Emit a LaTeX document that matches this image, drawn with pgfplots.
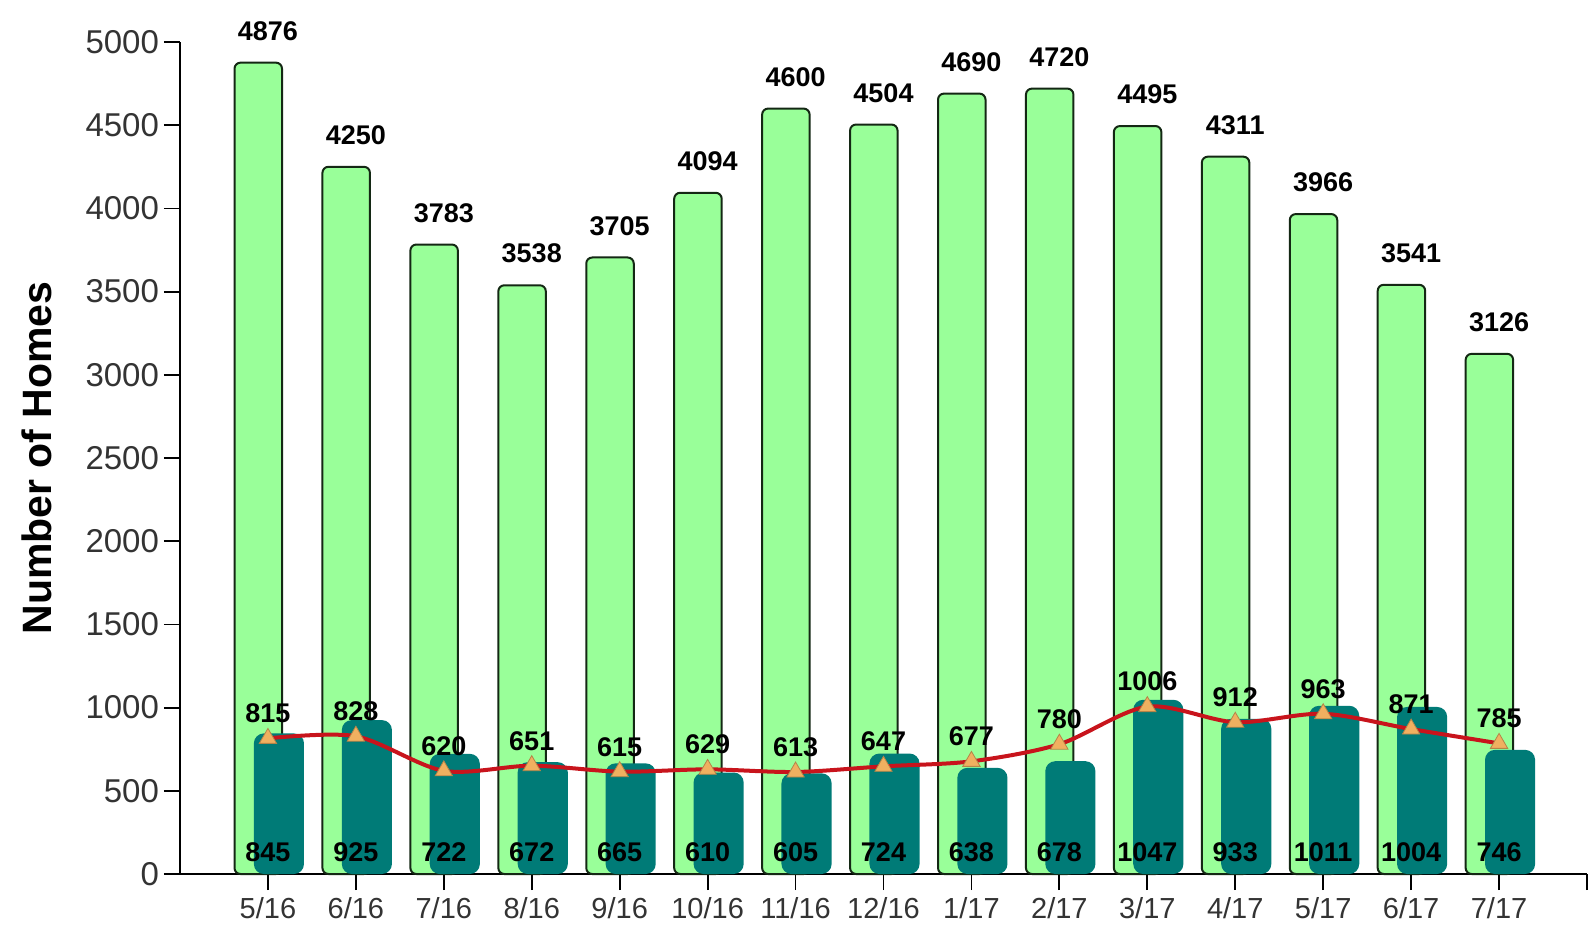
\documentclass[border=0pt]{standalone}
\usepackage{pgfplots}
\pgfplotsset{compat=1.18}
\usepackage{fontspec}
\setmainfont{Liberation Sans}
\definecolor{barGreen}{HTML}{99FF99}
\definecolor{barEdge}{HTML}{142814}
\definecolor{barTeal}{HTML}{007B77}
\definecolor{lineRed}{HTML}{C8141C}
\definecolor{triOrange}{HTML}{F0B060}
\definecolor{tickGrey}{HTML}{333333}
\begin{document}
\begin{tikzpicture}
\useasboundingbox (-90pt,-29.5pt) rectangle (705pt,437pt);
\begin{axis}[
  at={(0,0)}, anchor=south west,
  scale only axis,
  width=703.5pt, height=416pt,
  xmin=-1, xmax=15, ymin=0, ymax=5000,
  axis x line*=bottom, axis y line*=left,
  axis line style={-, line width=0.9pt, black},
  xtick={0,...,14},
  xticklabels={5/16,6/16,7/16,8/16,9/16,10/16,11/16,12/16,1/17,2/17,3/17,4/17,5/17,6/17,7/17},
  extra x ticks={15}, extra x tick labels={},
  ytick={0,500,...,5000},
  tick align=outside,
  major tick length=8pt,
  tick style={line width=0.9pt, black},
  /pgf/number format/assume math mode=true,
  /pgf/number format/1000 sep={},
  xticklabel style={font=\fontsize{14.5}{16}\selectfont, text=tickGrey},
  yticklabel style={font=\fontsize{16.5}{18}\selectfont, text=tickGrey, xshift=1pt},
  ylabel={Number of Homes},
  every axis y label/.style={at={([xshift=-71.5pt]axis description cs:0,0.5)}, rotate=90, anchor=center, font=\fontsize{20.5}{24}\selectfont\bfseries},
  clip=false,
]
% green bars
\addplot[ybar, bar width=0.54, bar shift=-0.11, fill=barGreen, draw=barEdge, line width=1pt, rounded corners=3pt,
  nodes near coords, nodes near coords style={font=\fontsize{13.5}{15}\selectfont\bfseries, inner sep=0pt, anchor=south, yshift=10.5pt, text=black}]
  coordinates {(0,4876) (1,4250) (2,3783) (3,3538) (4,3705) (5,4094) (6,4600) (7,4504) (8,4690) (9,4720) (10,4495) (11,4311) (12,3966) (13,3541) (14,3126)};
% teal bars
\addplot[ybar, bar width=0.57, bar shift=0.125, fill=barTeal, draw=none, rounded corners=5pt]
  coordinates {(0,845) (1,925) (2,722) (3,672) (4,665) (5,610) (6,605) (7,724) (8,638) (9,678) (10,1047) (11,933) (12,1011) (13,1004) (14,746)};
% red line
\addplot[lineRed, line width=2pt, smooth, tension=0.5, mark=triangle*, mark size=5pt,
  mark options={fill=triOrange, draw=triOrange!75!black, line width=0.4pt},
  nodes near coords, nodes near coords style={font=\fontsize{13.5}{15}\selectfont\bfseries, inner sep=0pt, anchor=south, yshift=7.5pt, text=black}]
  coordinates {(0,815) (1,828) (2,620) (3,651) (4,615) (5,629) (6,613) (7,647) (8,677) (9,780) (10,1006) (11,912) (12,963) (13,871) (14,785)};
% teal bar values at the bottom
\addplot[draw=none, mark=none, point meta=explicit,
  nodes near coords, nodes near coords style={font=\fontsize{13.5}{15}\selectfont\bfseries, inner sep=0pt, anchor=south, yshift=6pt, text=black}]
  coordinates {(0,0) [845] (1,0) [925] (2,0) [722] (3,0) [672] (4,0) [665] (5,0) [610] (6,0) [605] (7,0) [724] (8,0) [638] (9,0) [678] (10,0) [1047] (11,0) [933] (12,0) [1011] (13,0) [1004] (14,0) [746]};
\end{axis}
\end{tikzpicture}
\end{document}
